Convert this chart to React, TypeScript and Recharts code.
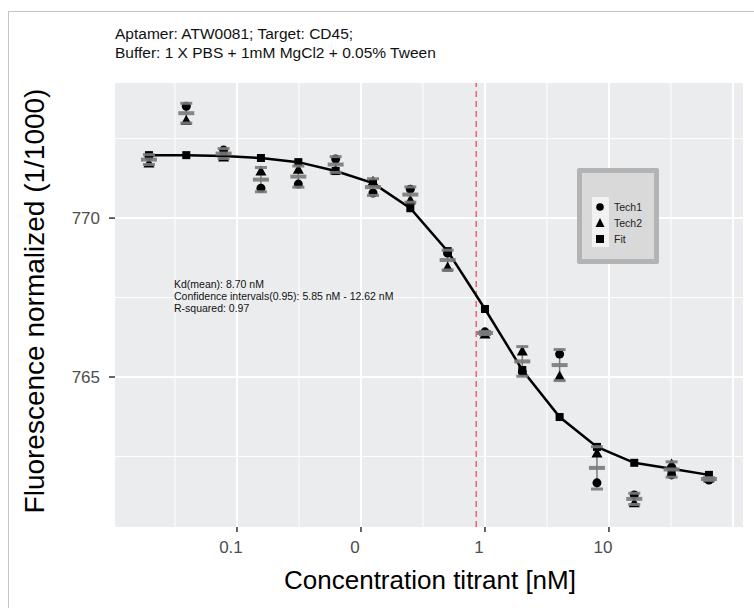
import React from 'react';
import { ComposedChart, XAxis, YAxis, CartesianGrid, Scatter, Line, ErrorBar, ReferenceLine } from 'recharts';

// concentration of the titrant, nM (2-fold dilution series)
const concentrations = [0.00195, 0.0039, 0.0078, 0.0156, 0.03125, 0.0625, 0.125, 0.25, 0.5, 1, 2, 4, 8, 16, 32, 64];
const tech1 = [771.95, 773.52, 772.14, 770.94, 771.07, 771.86, 770.79, 770.91, 768.9, 766.42, 765.16, 765.72, 761.67, 761.29, 761.92, 761.76];
const tech2 = [771.73, 773.08, 771.92, 771.48, 771.54, 771.51, 771.16, 770.57, 768.46, 766.35, 765.82, 765.03, 762.61, 761.04, 762.26, 761.82];
const fit = [771.98, 771.98, 771.95, 771.89, 771.76, 771.48, 771.1, 770.31, 768.96, 767.14, 765.22, 763.74, 762.8, 762.3, 762.11, 761.92];

const kdLine = 0.85;

const xTickValues = [0.01, 0.1, 1, 10];
const xTickLabels = ['0.1', '0', '1', '10'];
const xMajor = [0.01, 0.1, 1, 10, 100];
const xMinor = [0.00316, 0.0316, 0.316, 3.16, 31.6];
const yTicks = [765, 770];
const yMinor = [762.5, 767.5, 772.5];

const titleLines = ['Aptamer: ATW0081; Target: CD45;', 'Buffer: 1 X PBS + 1mM MgCl2 + 0.05% Tween'];
const statLines = ['Kd(mean): 8.70 nM', 'Confidence intervals(0.95): 5.85 nM - 12.62 nM', 'R-squared: 0.97'];
const legendItems = ['Tech1', 'Tech2', 'Fit'];

const rows = concentrations.map((conc, i) => {
  const mean = (tech1[i] + tech2[i]) / 2;
  const sd = Math.abs(tech1[i] - tech2[i]) / Math.SQRT2;
  return { conc, tech1: tech1[i], tech2: tech2[i], fit: fit[i], mean, sd, lo: mean - sd, hi: mean + sd };
});

const FONT = '"Liberation Sans", Arial, sans-serif';
const GREY = '#7a7a7a';

const CircleDot = (p: any) => <circle cx={p.cx} cy={p.cy} r={4.5} fill="#000" />;
const TriangleDot = (p: any) => (
  <polygon points={`${p.cx},${p.cy - 5.5} ${p.cx - 5.5},${p.cy + 4.5} ${p.cx + 5.5},${p.cy + 4.5}`} fill="#000" />
);
const SquareDot = (p: any) => <rect key={`sq-${p.index}`} x={p.cx - 4} y={p.cy - 4} width={8} height={8} fill="#000" />;
const Cap = (p: any) => <rect x={p.cx - 6} y={p.cy - 1.5} width={12} height={3} fill={GREY} fillOpacity={0.9} />;
const MeanBar = (p: any) => <rect x={p.cx - 8} y={p.cy - 2} width={16} height={4} fill={GREY} fillOpacity={0.9} />;

const legendSymbol = (name: string) => {
  if (name === 'Tech1') return <circle cx={8} cy={8} r={3.8} fill="#000" />;
  if (name === 'Tech2') return <polygon points="8,3 3.5,12 12.5,12" fill="#000" />;
  return <rect x={4} y={4} width={8} height={8} fill="#000" />;
};

export default function App() {
  return (
    <div style={{ position: 'fixed', left: 0, top: 0, width: 754, height: 608, background: '#fff', fontFamily: FONT }}>
      <div style={{ position: 'absolute', left: 8, top: 11, right: 0, bottom: 0, borderTop: '1.5px solid #c4c4c4', borderLeft: '1.5px solid #c4c4c4' }} />
      <ComposedChart width={754} height={608} data={rows} margin={{ top: 83, right: 11, bottom: 41, left: 0 }}>
        <CartesianGrid fill="#ebecee" stroke="#fff" strokeWidth={1} verticalValues={xMinor} horizontalValues={yMinor} />
        <CartesianGrid stroke="#fff" strokeWidth={2} verticalValues={xMajor} horizontalValues={yTicks} />
        <XAxis
          dataKey="conc"
          type="number"
          scale="log"
          domain={[0.001038, 120.5]}
          allowDataOverflow
          ticks={xTickValues}
          tickFormatter={(v: number) => xTickLabels[xTickValues.indexOf(v)] ?? ''}
          tick={{ fill: '#4d4d4d', fontSize: 17, fontFamily: FONT, dx: -6 }}
          tickSize={5}
          tickMargin={9}
          axisLine={false}
          tickLine={{ stroke: '#333', strokeWidth: 1.5 }}
          height={40}
        />
        <YAxis
          type="number"
          domain={[760.28, 774.25]}
          allowDataOverflow
          ticks={yTicks}
          tick={{ fill: '#4d4d4d', fontSize: 17, fontFamily: FONT }}
          tickSize={6}
          tickMargin={9}
          axisLine={false}
          tickLine={{ stroke: '#333', strokeWidth: 1.5 }}
          width={115}
        />
        <ReferenceLine x={kdLine} stroke="#ee4f55" strokeWidth={1.3} strokeDasharray="6 4" />
        <Line dataKey="fit" stroke="#000" strokeWidth={2.5} dot={SquareDot} isAnimationActive={false} />
        <Scatter dataKey="tech1" shape={CircleDot} isAnimationActive={false} />
        <Scatter dataKey="tech2" shape={TriangleDot} isAnimationActive={false} />
        <Scatter dataKey="mean" shape={MeanBar} isAnimationActive={false}>
          <ErrorBar dataKey="sd" direction="y" width={0} stroke={GREY} strokeWidth={1.5} />
        </Scatter>
        <Scatter dataKey="lo" shape={Cap} isAnimationActive={false} />
        <Scatter dataKey="hi" shape={Cap} isAnimationActive={false} />
      </ComposedChart>
      <svg width={754} height={608} style={{ position: 'absolute', left: 0, top: 0, pointerEvents: 'none' }}>
        {titleLines.map((t, i) => (
          <text key={t} x={115} y={39 + i * 19} fontSize={15.5} fill="#111" fontFamily={FONT}>{t}</text>
        ))}
        {statLines.map((t, i) => (
          <text key={t} x={174} y={288 + i * 12} fontSize={10.5} fill="#111" fontFamily={FONT}>{t}</text>
        ))}
        <text x={430} y={589} fontSize={26} textAnchor="middle" fill="#000" fontFamily={FONT}>Concentration titrant [nM]</text>
        <text x={44} y={301} fontSize={28} textAnchor="middle" fill="#000" fontFamily={FONT} transform="rotate(-90 44 301)">
          Fluorescence normalized (1/1000)
        </text>
      </svg>
      <div style={{ position: 'absolute', left: 577, top: 168, width: 82, height: 96, boxSizing: 'border-box', background: '#d9d9d9', border: '5px solid #b3b3b3', borderRadius: 2 }}>
        <div style={{ position: 'absolute', left: 10, top: 24, width: 17, height: 50, background: '#f2f2f2' }} />
        {legendItems.map((name, i) => (
          <div key={name} style={{ position: 'absolute', left: 10, top: 26 + i * 16, height: 16, display: 'flex', alignItems: 'center' }}>
            <svg width={17} height={16}>{legendSymbol(name)}</svg>
            <span style={{ marginLeft: 5, fontSize: 10.5, color: '#222', fontFamily: FONT }}>{name}</span>
          </div>
        ))}
      </div>
    </div>
  );
}
